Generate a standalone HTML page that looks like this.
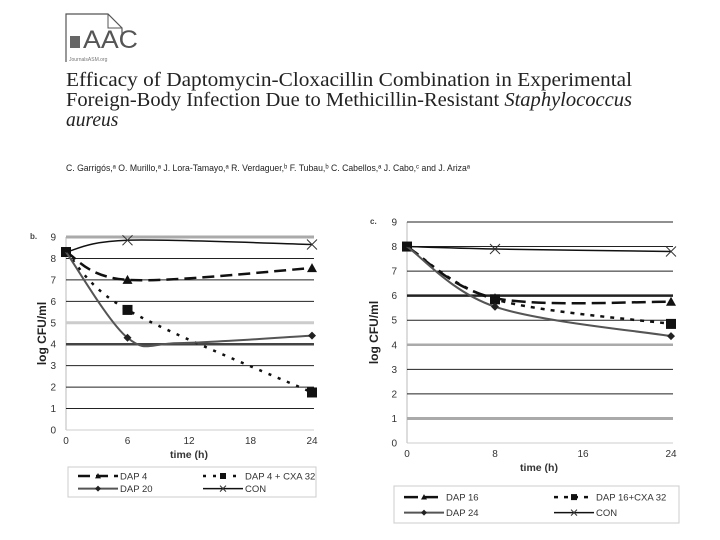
<!DOCTYPE html>
<html><head><meta charset="utf-8"><style>
body{margin:0;background:#fff;}
svg{display:block;font-family:"Liberation Sans",sans-serif;}
</style></head><body>
<svg id="root" width="720" height="540" viewBox="0 0 720 540">
<g>
<path d="M66 62 V14 H108 L122 28 V40" fill="none" stroke="#555" stroke-width="1.2"/>
<path d="M108 14 V28 H122" fill="none" stroke="#555" stroke-width="1"/>
<rect x="70" y="36" width="10" height="12" fill="#666"/>
<text x="83" y="48" font-size="25" fill="#555" textLength="55" lengthAdjust="spacingAndGlyphs">AAC</text>
<text x="69" y="61" font-size="5" fill="#777">JournalsASM.org</text>
</g>
<g font-family="'Liberation Serif',serif" font-size="19.5" fill="#222">
<text x="66" y="86" textLength="566" lengthAdjust="spacingAndGlyphs">Efficacy of Daptomycin-Cloxacillin Combination in Experimental</text>
<text x="66" y="106" textLength="566" lengthAdjust="spacingAndGlyphs">Foreign-Body Infection Due to Methicillin-Resistant <tspan font-style="italic">Staphylococcus</tspan></text>
<text x="66" y="126" font-style="italic">aureus</text>
</g>
<text x="66" y="171" font-size="9.5" fill="#222" textLength="404" lengthAdjust="spacingAndGlyphs">C. Garrigós,ᵃ O. Murillo,ᵃ J. Lora-Tamayo,ᵃ R. Verdaguer,ᵇ F. Tubau,ᵇ C. Cabellos,ᵃ J. Cabo,ᶜ and J. Arizaᵃ</text>
<g id="chartL"></g>
<g id="chartR"></g>
</svg>
<script>
const timesB=[0,6,24];
const dap4=[8.3,7.0,7.55];
const dap4cxa=[8.3,5.6,1.75];
const dap20=[8.3,4.3,4.4];
const conB=[8.3,8.85,8.65];
const xTicksB=[0,6,12,18,24];
const timesC=[0,8,24];
const dap16=[8.0,5.9,5.75];
const dap16cxa=[8.0,5.85,4.85];
const dap24=[8.0,5.55,4.35];
const conC=[8.0,7.9,7.8];
const xTicksC=[0,8,16,24];
const yTicks=[0,1,2,3,4,5,6,7,8,9];
const NS='http://www.w3.org/2000/svg';
function mk(p,t,a){const e=document.createElementNS(NS,t);for(const k in a)e.setAttribute(k,a[k]);p.appendChild(e);return e;}
function smooth(pts){let d='M'+pts[0][0]+' '+pts[0][1];for(let i=0;i<pts.length-1;i++){const p0=pts[i-1]||pts[i],p1=pts[i],p2=pts[i+1],p3=pts[i+2]||p2;
d+=' C'+(p1[0]+(p2[0]-p0[0])/6)+' '+(p1[1]+(p2[1]-p0[1])/6)+' '+(p2[0]-(p3[0]-p1[0])/6)+' '+(p2[1]-(p3[1]-p1[1])/6)+' '+p2[0]+' '+p2[1];}return d;}
function marker(g,kind,x,y,s){let e;
if(kind==='tri')e=mk(g,'path',{d:`M${x-s} ${y+s*0.8}L${x} ${y-s}L${x+s} ${y+s*0.8}Z`,fill:'#111'});
else if(kind==='sq')e=mk(g,'rect',{x:x-s,y:y-s,width:2*s,height:2*s,fill:'#111'});
else if(kind==='dia')e=mk(g,'path',{d:`M${x} ${y-s}L${x+s} ${y}L${x} ${y+s}L${x-s} ${y}Z`,fill:'#222'});
else e=mk(g,'path',{d:`M${x-s} ${y-s}L${x+s} ${y+s}M${x-s} ${y+s}L${x+s} ${y-s}`,stroke:'#333','stroke-width':1,fill:'none'});
return e;}
function chart(root,cfg){
const X=v=>cfg.x0+(cfg.x1-cfg.x0)*v/cfg.xmax, Y=v=>cfg.y0-(cfg.y0-cfg.y9)*v/9;
mk(root,'line',{x1:X(0),y1:Y(0),x2:X(0),y2:Y(9),stroke:'#bbb','stroke-width':1});
yTicks.forEach(v=>{const st=cfg.gridStyle[v]||['#222',1];
const l=mk(root,'line',{x1:X(0),y1:Y(v),x2:cfg.x1+2,y2:Y(v),stroke:st[0],'stroke-width':st[1]});

const t=mk(root,'text',{x:X(0)-10,y:Y(v)+3.5,'font-size':10,fill:'#333','text-anchor':'end'});t.textContent=v;
});
cfg.xt.forEach(v=>{const t=mk(root,'text',{x:X(v),y:Y(0)+14,'font-size':10,fill:'#333','text-anchor':'middle'});t.textContent=v;
});
const xt=mk(root,'text',{x:(X(0)+cfg.x1)/2,y:Y(0)+28,'font-size':10.5,'font-weight':'bold',fill:'#333','text-anchor':'middle'});xt.textContent='time (h)';

const yt=mk(root,'text',{x:cfg.ytx,y:(Y(0)+Y(9))/2,'font-size':12,'font-weight':'bold',fill:'#222','text-anchor':'middle',transform:`rotate(-90 ${cfg.ytx} ${(Y(0)+Y(9))/2})`});yt.textContent='log CFU/ml';

const pl=mk(root,'text',{x:cfg.panelX,y:Y(9)+2,'font-size':8,'font-weight':'bold',fill:'#444'});pl.textContent=cfg.panel;

cfg.series.forEach(s=>{const g=mk(root,'g',{});
let pts=s.t.map((t,i)=>[X(t),Y(s.v[i])]);
if(s.dip){pts=[pts[0],pts[1],[X(s.dip[0]),Y(s.dip[1])],...pts.slice(2)];}
const p=mk(g,'path',{d:smooth(pts),fill:'none',stroke:s.color,'stroke-width':s.w,'stroke-dasharray':s.dash||'none'});

s.t.forEach((t,i)=>{if(i===0&&!s.first)return;const m=marker(g,s.m,X(t),Y(s.v[i]),s.ms);
});});
const L=cfg.legend;const lg=mk(root,'g',{});
mk(lg,'rect',{x:L.x,y:L.y,width:L.w,height:L.h,fill:'#fff',stroke:'#ccc','stroke-width':1});
cfg.series.forEach((s,i)=>{const cx=L.x+10+(i%2)*L.col, cy=L.y+L.h*0.3+Math.floor(i/2)*L.h*0.42;
const e=mk(lg,'g',{});
mk(e,'line',{x1:cx,y1:cy,x2:cx+40,y2:cy,stroke:s.color,'stroke-width':s.w,'stroke-dasharray':s.dash||'none'});
marker(e,s.m,cx+20,cy,3);
const t=mk(e,'text',{x:cx+42,y:cy+3.5,'font-size':9.5,fill:'#333'});t.textContent=s.name;});
}
chart(document.getElementById('chartL'),{x0:66,x1:312,xmax:24,y0:430,y9:237,xt:xTicksB,ytx:46,panel:'b.',panelX:30,
gridStyle:{9:['#aaa',3],5:['#ccc',3],4:['#444',2.5],0:['#ccc',1]},
series:[
{id:'dap4',name:'DAP 4',t:timesB,v:dap4,color:'#111',w:2.5,dash:'12 6',m:'tri',ms:5},
{id:'dap4-cxa32',name:'DAP 4 + CXA 32',t:timesB,v:dap4cxa,color:'#111',w:2.5,dash:'3 7',m:'sq',ms:5,first:true},
{id:'dap20',name:'DAP 20',t:timesB,v:dap20,color:'#555',w:2,m:'dia',ms:4,dip:[11,4.05]},
{id:'con',name:'CON',t:timesB,v:conB,color:'#111',w:1.5,m:'x',ms:5}],
legend:{x:68,y:467,w:248,h:30,col:125}});
chart(document.getElementById('chartR'),{x0:407,x1:671,xmax:24,y0:443,y9:222,xt:xTicksC,ytx:378,panel:'c.',panelX:370,
gridStyle:{6:['#222',2.5],4:['#aaa',2.5],1:['#aaa',3],0:['#ccc',1]},
series:[
{id:'dap16',name:'DAP 16',t:timesC,v:dap16,color:'#111',w:2.5,dash:'14 6',m:'tri',ms:5},
{id:'dap16-cxa32',name:'DAP 16+CXA 32',t:timesC,v:dap16cxa,color:'#111',w:2.5,dash:'4 6',m:'sq',ms:5,first:true},
{id:'dap24',name:'DAP 24',t:timesC,v:dap24,color:'#555',w:2,m:'dia',ms:4},
{id:'con',name:'CON',t:timesC,v:conC,color:'#111',w:1.5,m:'x',ms:5}],
legend:{x:394,y:486,w:285,h:37,col:150}});
</script>
</body></html>
